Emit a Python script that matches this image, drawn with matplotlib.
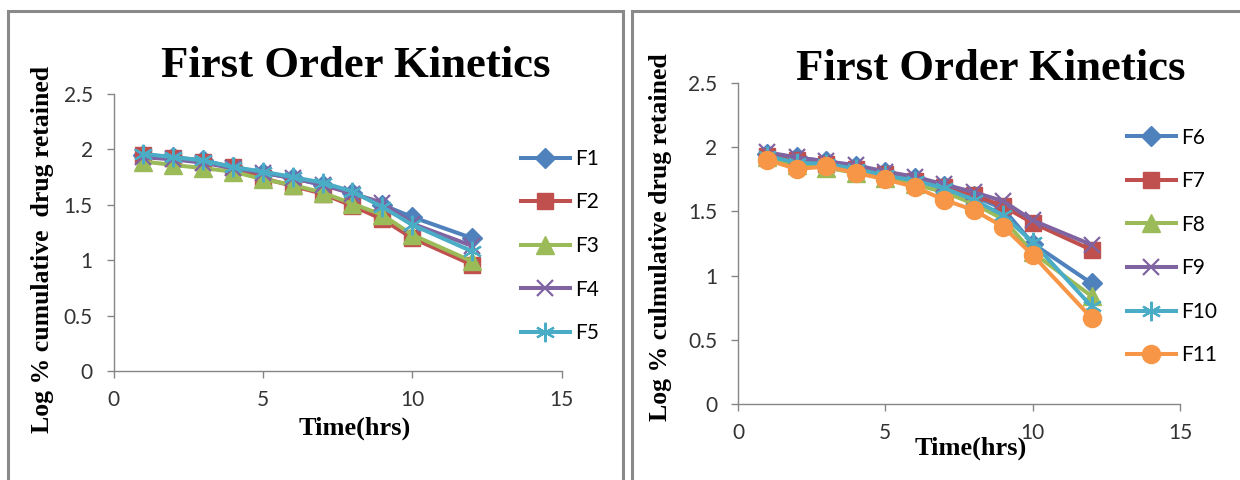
import matplotlib
matplotlib.use("Agg")
import matplotlib.pyplot as plt
from matplotlib.patches import Rectangle

W, H = 1240, 480

time_hrs = [1, 2, 3, 4, 5, 6, 7, 8, 9, 10, 12]

# Left chart
F1 = [1.95, 1.93, 1.90, 1.84, 1.79, 1.74, 1.68, 1.61, 1.50, 1.39, 1.20]
F2 = [1.95, 1.92, 1.89, 1.84, 1.74, 1.67, 1.60, 1.49, 1.37, 1.20, 0.96]
F3 = [1.89, 1.86, 1.83, 1.80, 1.73, 1.68, 1.61, 1.51, 1.41, 1.23, 0.99]
F4 = [1.93, 1.91, 1.88, 1.83, 1.79, 1.74, 1.68, 1.60, 1.52, 1.33, 1.13]
F5 = [1.96, 1.93, 1.90, 1.84, 1.80, 1.75, 1.70, 1.62, 1.48, 1.32, 1.08]

# Right chart
F6 = [1.95, 1.92, 1.89, 1.85, 1.81, 1.76, 1.70, 1.62, 1.52, 1.25, 0.94]
F7 = [1.93, 1.90, 1.87, 1.83, 1.79, 1.74, 1.69, 1.63, 1.54, 1.41, 1.20]
F8 = [1.92, 1.86, 1.84, 1.80, 1.76, 1.71, 1.65, 1.56, 1.44, 1.18, 0.84]
F9 = [1.96, 1.92, 1.89, 1.86, 1.81, 1.77, 1.71, 1.65, 1.58, 1.43, 1.24]
F10 = [1.93, 1.88, 1.87, 1.83, 1.78, 1.74, 1.68, 1.59, 1.47, 1.26, 0.76]
F11 = [1.90, 1.83, 1.85, 1.80, 1.75, 1.69, 1.59, 1.51, 1.38, 1.16, 0.67]

left_labels = ["F1", "F2", "F3", "F4", "F5"]
right_labels = ["F6", "F7", "F8", "F9", "F10", "F11"]
xticks = [0, 5, 10, 15]
yticks = [0, 0.5, 1, 1.5, 2, 2.5]
ytick_labels = ["0", "0.5", "1", "1.5", "2", "2.5"]

title_text = "First Order Kinetics"
xlabel_text = "Time(hrs)"
ylabel_left = "Log % cumulative  drug retained"
ylabel_right = "Log % culmulative drug retained"

colors = ["#4F81BD", "#C0504D", "#9BBB59", "#8064A2", "#4BACC6", "#F79646"]
STAR = (6, 2, 0)
styles = [
    dict(marker="D", ms=10, mew=1.0),
    dict(marker="s", ms=12, mew=1.0),
    dict(marker="^", ms=13, mew=1.0),
    dict(marker="x", ms=12, mew=1.6),
    dict(marker=STAR, ms=14, mew=1.6),
    dict(marker="o", ms=13, mew=1.0),
]

SERIF = "Liberation Serif"
SANS = "Lato"

fig = plt.figure(figsize=(W / 100, H / 100), dpi=100)


def fx(x):
    return x / W


def fy(y):
    return 1 - y / H


def make_axes(x0, x1, y0, y1):
    # x0/x1: pixel of x=0 and x=15; y0/y1: pixel of y=0 and y=2.5
    ax = fig.add_axes([fx(x0), fy(y0), (x1 - x0) / W, (y0 - y1) / H])
    ax.set_xlim(0, 15)
    ax.set_ylim(0, 2.5)
    ax.set_xticks(xticks)
    ax.set_yticks(yticks)
    ax.set_yticklabels(ytick_labels)
    for s in ["top", "right"]:
        ax.spines[s].set_visible(False)
    for s in ["left", "bottom"]:
        ax.spines[s].set_color("#868686")
        ax.spines[s].set_linewidth(1.0)
    ax.tick_params(axis="both", direction="out", length=5, width=1.0,
                   color="#868686", labelsize=15, labelcolor="#333333")
    ax.tick_params(axis="x", pad=9)
    ax.tick_params(axis="y", pad=10)
    for lab in ax.get_xticklabels() + ax.get_yticklabels():
        lab.set_fontfamily(SANS)
    ax.patch.set_alpha(0)
    return ax


def draw_series(ax, series, labels, style_idx):
    handles = []
    for vals, lab, i in zip(series, labels, style_idx):
        st = styles[i]
        h, = ax.plot(time_hrs, vals, color=colors[i % 6], lw=2.9,
                     marker=st["marker"], ms=st["ms"], mew=st["mew"],
                     mfc=colors[i % 6], mec=colors[i % 6], label=lab,
                     clip_on=False)
        handles.append(h)
    return handles


# Frames around panels
fig.patches.append(Rectangle((fx(7.5), fy(490)), (623.3 - 7.5) / W, (490 - 11.5) / H,
                             transform=fig.transFigure, fill=False,
                             edgecolor="#8a8a8a", lw=2.2))
fig.patches.append(Rectangle((fx(632), fy(490)), (1260 - 632) / W, (490 - 11.5) / H,
                             transform=fig.transFigure, fill=False,
                             edgecolor="#8a8a8a", lw=2.2))

# Left chart
axL = make_axes(113.5, 561.5, 371, 94)
hL = draw_series(axL, [F1, F2, F3, F4, F5], left_labels, [0, 1, 2, 3, 4])
axL.legend(handles=hL, loc="center left",
           bbox_to_anchor=(fx(521), fy(246)), bbox_transform=fig.transFigure,
           frameon=False, borderpad=0, borderaxespad=0, handlelength=2.35,
           handletextpad=0.25, labelspacing=1.13,
           prop=dict(family=SANS, size=15))

fig.text(fx(356), fy(77), title_text, ha="center", va="baseline",
         fontsize=32.2, fontweight="bold", family=SERIF)
fig.text(fx(355), fy(435), xlabel_text, ha="center", va="baseline",
         fontsize=19, fontweight="bold", family=SERIF)
fig.text(fx(43), fy(249), ylabel_left, ha="center", va="center", rotation=90,
         fontsize=18.5, fontweight="bold", family=SERIF)

# Right chart
axR = make_axes(738, 1180, 404, 83)
hR = draw_series(axR, [F6, F7, F8, F9, F10, F11], right_labels, [0, 1, 2, 3, 4, 5])
axR.legend(handles=hR, loc="center left",
           bbox_to_anchor=(fx(1127), fy(246.5)), bbox_transform=fig.transFigure,
           frameon=False, borderpad=0, borderaxespad=0, handlelength=2.35,
           handletextpad=0.25, labelspacing=1.13,
           prop=dict(family=SANS, size=15))

fig.text(fx(991), fy(80), title_text, ha="center", va="baseline",
         fontsize=32.2, fontweight="bold", family=SERIF)
fig.text(fx(971), fy(455), xlabel_text, ha="center", va="baseline",
         fontsize=19, fontweight="bold", family=SERIF)
fig.text(fx(660), fy(237), ylabel_right, ha="center", va="center", rotation=90,
         fontsize=18.5, fontweight="bold", family=SERIF)

fig.savefig("out.png", dpi=100, facecolor="white")
